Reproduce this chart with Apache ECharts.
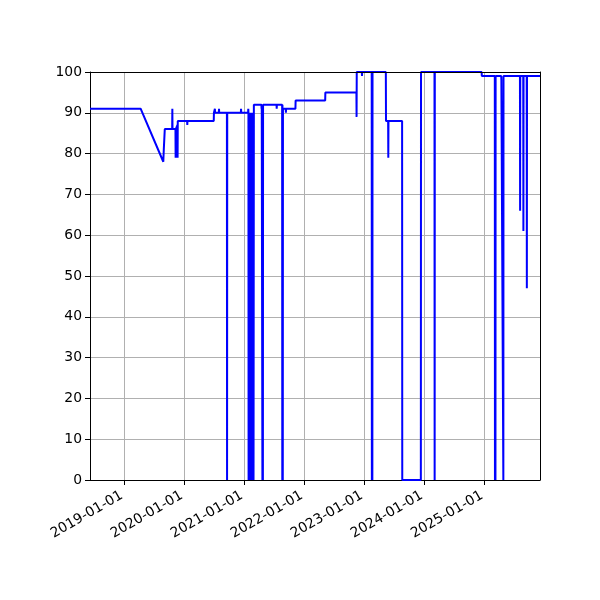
<!DOCTYPE html>
<html>
<head>
<meta charset="utf-8">
<script src="https://cdn.jsdelivr.net/npm/echarts@6/dist/echarts.min.js"></script>
<style>html,body{margin:0;padding:0;background:#fff}#c{width:600px;height:600px}</style>
</head>
<body>
<div id="c"></div>
<script>
const dates = [
'2018-06-06','2019-04-10','2019-08-26','2019-08-29','2019-09-03','2019-09-04',
'2019-10-19','2019-10-20','2019-10-21','2019-11-08','2019-11-09','2019-11-10',
'2019-11-20','2019-11-21','2019-11-22','2020-01-18','2020-01-19','2020-01-20',
'2020-06-28','2020-06-29','2020-07-04','2020-07-05','2020-07-06','2020-07-29',
'2020-07-30','2020-07-31','2020-09-16','2020-09-17','2020-09-18','2020-12-10',
'2020-12-11','2020-12-12','2021-01-23','2021-01-24','2021-01-25',
'2021-01-26','2021-01-27','2021-01-28','2021-01-29','2021-01-30','2021-01-31',
'2021-02-01','2021-02-02','2021-02-03','2021-02-04','2021-02-05','2021-02-06',
'2021-02-07','2021-02-08','2021-02-09','2021-02-10','2021-02-11','2021-02-12',
'2021-02-13','2021-02-14','2021-02-15','2021-02-16','2021-02-17','2021-02-18',
'2021-02-19','2021-02-20','2021-02-21','2021-02-22','2021-02-23','2021-02-24',
'2021-02-25','2021-02-26','2021-02-27',
'2021-04-14','2021-04-15','2021-04-16','2021-04-19','2021-04-20','2021-04-21',
'2021-04-23','2021-04-24','2021-07-15','2021-07-16','2021-07-17','2021-08-18',
'2021-08-19','2021-08-20','2021-08-22','2021-08-23','2021-09-09','2021-09-10',
'2021-09-11','2021-11-07','2021-11-08','2022-05-07','2022-05-08','2022-11-13',
'2022-11-14','2022-11-15','2022-12-16','2022-12-17','2022-12-18','2023-02-14',
'2023-02-15','2023-02-16','2023-02-18','2023-02-19','2023-05-11','2023-05-12',
'2023-05-25','2023-05-26','2023-05-27','2023-08-18','2023-08-19','2023-12-10',
'2023-12-11','2024-03-02','2024-03-03','2024-03-04','2024-12-14','2024-12-15',
'2025-03-04','2025-03-05','2025-03-06','2025-03-08','2025-03-09','2025-04-12',
'2025-04-13','2025-04-24','2025-04-25','2025-04-26','2025-08-04','2025-08-05',
'2025-08-06','2025-08-24','2025-08-25','2025-08-26','2025-09-14','2025-09-15',
'2025-09-16','2025-12-04'
];
const values = [
91,91,78,81,81,86,
86,91,86,86,79,86,
87,79,88,88,87,88,
88,90,90,91,90,90,
91,90,90,0,90,90,
91,90,90,91,90,
0,90,0,90,0,90,
0,90,0,90,0,90,
0,90,0,90,0,90,
0,90,0,90,0,90,
0,90,0,90,0,90,
0,0,92,
92,91,92,92,0,92,
0,92,92,91,92,92,
0,92,0,91,91,90,
91,91,93,93,95,95,
89,100,100,99,100,100,
0,100,0,100,100,88,
88,79,88,88,0,0,
100,100,0,100,100,99,
99,0,99,0,99,99,
98,98,0,99,99,66,
99,99,61,99,99,47,
99,99
];
const xTickLabels = ['2019-01-01','2020-01-01','2021-01-01','2022-01-01','2023-01-01','2024-01-01','2025-01-01'];
const xRange = ['2018-06-06','2025-12-04'];
const yRange = [0, 100];
const yStep = 10;

function ts(s){const p=s.split('-').map(Number);return Date.UTC(p[0],p[1]-1,p[2]);}
function fmt(v){const d=new Date(v);const p=n=>String(n).padStart(2,'0');return d.getUTCFullYear()+'-'+p(d.getUTCMonth()+1)+'-'+p(d.getUTCDate());}
const seriesData = dates.map((d,i)=>[ts(d), values[i]]);
const tickTs = xTickLabels.map(ts);
const font = 'DejaVu Sans';

const chart = echarts.init(document.getElementById('c'), null, {renderer:'canvas'});
chart.setOption({
  animation:false,
  backgroundColor:'#ffffff',
  grid:{left:90,right:60,top:72,bottom:120,containLabel:false},
  xAxis:[{
    type:'value', min:ts(xRange[0]), max:ts(xRange[1]), position:'bottom', scale:true,
    axisLine:{show:true,onZero:false,lineStyle:{color:'#000',width:1}},
    axisTick:{show:true,customValues:tickTs,length:5,lineStyle:{color:'#000',width:1}},
    axisLabel:{show:true,customValues:tickTs,rotate:30,margin:13,padding:[0,3,0,0],color:'#000',fontFamily:font,fontSize:13.9,formatter:fmt},
    splitLine:{show:true,lineStyle:{color:'#b0b0b0',width:1}}
  },{
    type:'value', min:ts(xRange[0]), max:ts(xRange[1]), position:'top', z:5, scale:true,
    axisLine:{show:true,onZero:false,lineStyle:{color:'#000',width:1}},
    axisTick:{show:false},axisLabel:{show:false},splitLine:{show:false}
  }],
  yAxis:[{
    type:'value', min:yRange[0], max:yRange[1], interval:yStep, position:'left',
    axisLine:{show:true,onZero:false,lineStyle:{color:'#000',width:1}},
    axisTick:{show:true,length:5,lineStyle:{color:'#000',width:1}},
    axisLabel:{show:true,margin:8,color:'#000',fontFamily:font,fontSize:13.9},
    splitLine:{show:true,lineStyle:{color:'#b0b0b0',width:1}}
  },{
    type:'value', min:yRange[0], max:yRange[1], interval:yStep, position:'right', z:5,
    axisLine:{show:true,onZero:false,lineStyle:{color:'#000',width:1}},
    axisTick:{show:false},axisLabel:{show:false},splitLine:{show:false}
  }],
  series:[{
    type:'line', xAxisIndex:0, yAxisIndex:0, data:seriesData,
    showSymbol:false, symbol:'none', clip:true,
    lineStyle:{color:'#0000ff',width:2}
  }]
});
</script>
</body>
</html>
